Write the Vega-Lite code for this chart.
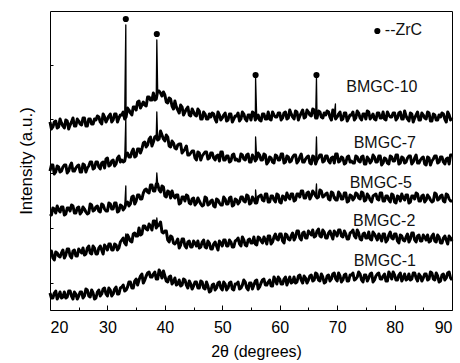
{
  "$schema": "https://vega.github.io/schema/vega-lite/v6.json",
  "autosize": "none",
  "width": 402,
  "height": 299,
  "padding": {"left": 50, "top": 11, "right": 8, "bottom": 53},
  "background": "white",
  "config": {
    "view": {"stroke": "black", "strokeWidth": 1},
    "font": "Liberation Sans",
    "axis": {"grid": false, "domainColor": "black", "tickColor": "black", "labelColor": "black", "titleColor": "black", "labelFont": "Liberation Sans", "titleFont": "Liberation Sans", "titleFontWeight": "normal"}
  },
  "datasets": {
    "xrd": [
      {"t":20,"a":188,"b":139,"c":96,"d":59,"e":17},
      {"t":20.25,"a":181,"b":145,"c":95,"d":59,"e":12},
      {"t":20.5,"a":183,"b":145,"c":102,"d":52,"e":12},
      {"t":20.75,"a":188,"b":136,"c":101,"d":50,"e":17},
      {"t":21,"a":189,"b":138,"c":97,"d":58,"e":19},
      {"t":21.25,"a":182,"b":144,"c":104,"d":57,"e":11},
      {"t":21.5,"a":183,"b":143,"c":100,"d":54,"e":14},
      {"t":21.75,"a":191,"b":138,"c":98,"d":53,"e":18},
      {"t":22,"a":187,"b":139,"c":103,"d":57,"e":12},
      {"t":22.25,"a":184,"b":143,"c":103,"d":60,"e":13},
      {"t":22.5,"a":182,"b":145,"c":95,"d":52,"e":18},
      {"t":22.75,"a":190,"b":145,"c":96,"d":55,"e":12},
      {"t":23,"a":189,"b":137,"c":102,"d":61,"e":13},
      {"t":23.25,"a":181,"b":139,"c":102,"d":61,"e":19},
      {"t":23.5,"a":185,"b":144,"c":99,"d":54,"e":19},
      {"t":23.75,"a":188,"b":147,"c":105,"d":52,"e":14},
      {"t":24,"a":192,"b":139,"c":104,"d":59,"e":11},
      {"t":24.25,"a":184,"b":139,"c":97,"d":60,"e":18},
      {"t":24.5,"a":184,"b":142,"c":97,"d":54,"e":16},
      {"t":24.75,"a":191,"b":144,"c":102,"d":54,"e":11},
      {"t":25,"a":189,"b":145,"c":103,"d":61,"e":14},
      {"t":25.25,"a":186,"b":138,"c":96,"d":59,"e":18},
      {"t":25.5,"a":185,"b":138,"c":98,"d":57,"e":18},
      {"t":25.75,"a":192,"b":146,"c":103,"d":62,"e":12},
      {"t":26,"a":192,"b":145,"c":101,"d":55,"e":14},
      {"t":26.25,"a":184,"b":138,"c":98,"d":56,"e":21},
      {"t":26.5,"a":184,"b":142,"c":96,"d":62,"e":20},
      {"t":26.75,"a":191,"b":144,"c":97,"d":64,"e":14},
      {"t":27,"a":191,"b":148,"c":106,"d":57,"e":13},
      {"t":27.25,"a":186,"b":148,"c":105,"d":56,"e":20},
      {"t":27.5,"a":186,"b":141,"c":99,"d":64,"e":17},
      {"t":27.75,"a":191,"b":142,"c":100,"d":62,"e":11},
      {"t":28,"a":190,"b":148,"c":103,"d":56,"e":12},
      {"t":28.25,"a":194,"b":148,"c":104,"d":56,"e":18},
      {"t":28.5,"a":193,"b":143,"c":99,"d":62,"e":20},
      {"t":28.75,"a":188,"b":141,"c":98,"d":64,"e":14},
      {"t":29,"a":186,"b":147,"c":106,"d":60,"e":16},
      {"t":29.25,"a":196,"b":148,"c":105,"d":56,"e":21},
      {"t":29.5,"a":193,"b":142,"c":101,"d":65,"e":22},
      {"t":29.75,"a":188,"b":151,"c":99,"d":63,"e":16},
      {"t":30,"a":191,"b":152,"c":99,"d":60,"e":14},
      {"t":30.25,"a":194,"b":144,"c":107,"d":66,"e":22},
      {"t":30.5,"a":196,"b":145,"c":106,"d":66,"e":20},
      {"t":30.75,"a":188,"b":149,"c":101,"d":60,"e":14},
      {"t":31,"a":190,"b":150,"c":101,"d":60,"e":16},
      {"t":31.25,"a":196,"b":144,"c":107,"d":66,"e":21},
      {"t":31.5,"a":196,"b":146,"c":107,"d":65,"e":23},
      {"t":31.75,"a":188,"b":152,"c":98,"d":60,"e":16},
      {"t":32,"a":192,"b":154,"c":99,"d":62,"e":16},
      {"t":32.25,"a":195,"b":148,"c":105,"d":68,"e":22},
      {"t":32.5,"a":195,"b":150,"c":104,"d":70,"e":23},
      {"t":32.75,"a":198,"b":148,"c":100,"d":72,"e":25},
      {"t":33,"a":191,"b":149,"c":102,"d":67,"e":19},
      {"t":33.2,"a":285,"b":192,"c":124,"d":76,"e":21},
      {"t":33.25,"a":193,"b":156,"c":107,"d":65,"e":20},
      {"t":33.5,"a":202,"b":157,"c":108,"d":75,"e":23},
      {"t":33.75,"a":200,"b":153,"c":104,"d":72,"e":28},
      {"t":34,"a":197,"b":153,"c":106,"d":69,"e":28},
      {"t":34.25,"a":195,"b":158,"c":113,"d":68,"e":22},
      {"t":34.5,"a":203,"b":161,"c":114,"d":76,"e":22},
      {"t":34.75,"a":203,"b":153,"c":106,"d":77,"e":29},
      {"t":35,"a":200,"b":154,"c":109,"d":74,"e":31},
      {"t":35.25,"a":208,"b":161,"c":115,"d":74,"e":25},
      {"t":35.5,"a":209,"b":161,"c":115,"d":82,"e":30},
      {"t":35.75,"a":202,"b":157,"c":111,"d":75,"e":34},
      {"t":36,"a":205,"b":161,"c":111,"d":76,"e":36},
      {"t":36.25,"a":208,"b":167,"c":117,"d":84,"e":27},
      {"t":36.5,"a":205,"b":168,"c":120,"d":84,"e":30},
      {"t":36.75,"a":204,"b":163,"c":121,"d":81,"e":34},
      {"t":37,"a":213,"b":165,"c":118,"d":80,"e":37},
      {"t":37.25,"a":213,"b":171,"c":117,"d":86,"e":38},
      {"t":37.5,"a":210,"b":173,"c":125,"d":84,"e":33},
      {"t":37.75,"a":210,"b":164,"c":125,"d":80,"e":33},
      {"t":38,"a":217,"b":168,"c":119,"d":89,"e":36},
      {"t":38.25,"a":210,"b":173,"c":119,"d":89,"e":38},
      {"t":38.5,"a":211,"b":174,"c":126,"d":82,"e":31},
      {"t":38.6,"a":270,"b":198,"c":137,"d":92,"e":35},
      {"t":38.75,"a":219,"b":170,"c":126,"d":84,"e":31},
      {"t":39,"a":219,"b":171,"c":120,"d":85,"e":40},
      {"t":39.25,"a":217,"b":179,"c":118,"d":88,"e":37},
      {"t":39.5,"a":214,"b":175,"c":124,"d":78,"e":32},
      {"t":39.75,"a":218,"b":171,"c":123,"d":77,"e":39},
      {"t":40,"a":215,"b":169,"c":114,"d":79,"e":34},
      {"t":40.25,"a":208,"b":175,"c":113,"d":79,"e":29},
      {"t":40.5,"a":207,"b":173,"c":119,"d":70,"e":28},
      {"t":40.75,"a":212,"b":164,"c":118,"d":68,"e":33},
      {"t":41,"a":211,"b":163,"c":112,"d":74,"e":34},
      {"t":41.25,"a":204,"b":169,"c":119,"d":73,"e":26},
      {"t":41.5,"a":201,"b":167,"c":114,"d":67,"e":28},
      {"t":41.75,"a":209,"b":162,"c":112,"d":66,"e":32},
      {"t":42,"a":203,"b":161,"c":115,"d":68,"e":25},
      {"t":42.25,"a":200,"b":165,"c":115,"d":71,"e":26},
      {"t":42.5,"a":197,"b":166,"c":106,"d":62,"e":30},
      {"t":42.75,"a":205,"b":166,"c":107,"d":65,"e":24},
      {"t":43,"a":203,"b":157,"c":113,"d":71,"e":25},
      {"t":43.25,"a":195,"b":159,"c":113,"d":71,"e":31},
      {"t":43.5,"a":198,"b":161,"c":109,"d":64,"e":30},
      {"t":43.75,"a":201,"b":164,"c":115,"d":62,"e":25},
      {"t":44,"a":203,"b":155,"c":114,"d":68,"e":22},
      {"t":44.25,"a":195,"b":155,"c":107,"d":69,"e":29},
      {"t":44.5,"a":194,"b":157,"c":106,"d":63,"e":26},
      {"t":44.75,"a":201,"b":159,"c":111,"d":63,"e":21},
      {"t":45,"a":198,"b":159,"c":112,"d":69,"e":24},
      {"t":45.25,"a":195,"b":152,"c":105,"d":67,"e":28},
      {"t":45.5,"a":194,"b":150,"c":107,"d":64,"e":28},
      {"t":45.75,"a":201,"b":158,"c":112,"d":69,"e":22},
      {"t":46,"a":199,"b":157,"c":109,"d":62,"e":22},
      {"t":46.25,"a":191,"b":150,"c":106,"d":63,"e":29},
      {"t":46.5,"a":191,"b":154,"c":104,"d":68,"e":28},
      {"t":46.75,"a":198,"b":156,"c":105,"d":70,"e":22},
      {"t":47,"a":196,"b":158,"c":113,"d":63,"e":21},
      {"t":47.25,"a":191,"b":158,"c":112,"d":62,"e":28},
      {"t":47.5,"a":191,"b":151,"c":105,"d":69,"e":24},
      {"t":47.75,"a":196,"b":152,"c":106,"d":67,"e":18},
      {"t":48,"a":193,"b":157,"c":109,"d":61,"e":19},
      {"t":48.25,"a":197,"b":157,"c":110,"d":61,"e":25},
      {"t":48.5,"a":196,"b":152,"c":104,"d":66,"e":26},
      {"t":48.75,"a":191,"b":150,"c":103,"d":68,"e":20},
      {"t":49,"a":188,"b":154,"c":111,"d":64,"e":22},
      {"t":49.25,"a":198,"b":155,"c":110,"d":60,"e":27},
      {"t":49.5,"a":195,"b":149,"c":107,"d":69,"e":28},
      {"t":49.75,"a":190,"b":158,"c":105,"d":67,"e":22},
      {"t":50,"a":192,"b":158,"c":105,"d":64,"e":20},
      {"t":50.25,"a":195,"b":150,"c":113,"d":70,"e":28},
      {"t":50.5,"a":197,"b":150,"c":111,"d":70,"e":26},
      {"t":50.75,"a":189,"b":154,"c":106,"d":64,"e":20},
      {"t":51,"a":190,"b":154,"c":106,"d":64,"e":22},
      {"t":51.25,"a":196,"b":148,"c":112,"d":70,"e":27},
      {"t":51.5,"a":196,"b":149,"c":113,"d":68,"e":28},
      {"t":51.75,"a":188,"b":155,"c":104,"d":63,"e":21},
      {"t":52,"a":191,"b":156,"c":105,"d":63,"e":20},
      {"t":52.25,"a":194,"b":150,"c":111,"d":69,"e":26},
      {"t":52.5,"a":194,"b":151,"c":110,"d":70,"e":26},
      {"t":52.75,"a":197,"b":149,"c":106,"d":72,"e":28},
      {"t":53,"a":189,"b":149,"c":108,"d":66,"e":21},
      {"t":53.25,"a":191,"b":156,"c":113,"d":64,"e":22},
      {"t":53.5,"a":198,"b":155,"c":113,"d":73,"e":25},
      {"t":53.75,"a":196,"b":151,"c":109,"d":70,"e":30},
      {"t":54,"a":191,"b":150,"c":108,"d":65,"e":28},
      {"t":54.25,"a":189,"b":155,"c":115,"d":64,"e":22},
      {"t":54.5,"a":195,"b":156,"c":114,"d":70,"e":20},
      {"t":54.75,"a":195,"b":148,"c":106,"d":71,"e":27},
      {"t":55,"a":190,"b":148,"c":107,"d":67,"e":27},
      {"t":55.25,"a":198,"b":155,"c":113,"d":67,"e":21},
      {"t":55.5,"a":197,"b":153,"c":111,"d":73,"e":25},
      {"t":55.75,"a":190,"b":149,"c":107,"d":66,"e":29},
      {"t":55.8,"a":232,"b":173,"c":120,"d":69,"e":26},
      {"t":56,"a":192,"b":151,"c":107,"d":65,"e":30},
      {"t":56.25,"a":195,"b":157,"c":113,"d":73,"e":21},
      {"t":56.5,"a":190,"b":155,"c":114,"d":72,"e":23},
      {"t":56.75,"a":189,"b":150,"c":115,"d":69,"e":27},
      {"t":57,"a":196,"b":150,"c":110,"d":67,"e":30},
      {"t":57.25,"a":196,"b":156,"c":109,"d":73,"e":31},
      {"t":57.5,"a":191,"b":155,"c":116,"d":70,"e":25},
      {"t":57.75,"a":191,"b":146,"c":116,"d":66,"e":25},
      {"t":58,"a":198,"b":148,"c":108,"d":74,"e":28},
      {"t":58.25,"a":191,"b":153,"c":108,"d":74,"e":30},
      {"t":58.5,"a":190,"b":152,"c":114,"d":66,"e":24},
      {"t":58.75,"a":198,"b":148,"c":114,"d":68,"e":24},
      {"t":59,"a":195,"b":147,"c":110,"d":73,"e":33},
      {"t":59.25,"a":193,"b":155,"c":108,"d":76,"e":30},
      {"t":59.5,"a":193,"b":154,"c":116,"d":71,"e":26},
      {"t":59.75,"a":197,"b":150,"c":115,"d":70,"e":33},
      {"t":60,"a":197,"b":150,"c":108,"d":76,"e":31},
      {"t":60.25,"a":190,"b":156,"c":107,"d":76,"e":26},
      {"t":60.5,"a":192,"b":156,"c":114,"d":69,"e":26},
      {"t":60.75,"a":197,"b":147,"c":113,"d":67,"e":31},
      {"t":61,"a":198,"b":148,"c":110,"d":76,"e":33},
      {"t":61.25,"a":191,"b":154,"c":117,"d":75,"e":25},
      {"t":61.5,"a":192,"b":153,"c":113,"d":71,"e":29},
      {"t":61.75,"a":200,"b":148,"c":111,"d":70,"e":33},
      {"t":62,"a":196,"b":149,"c":116,"d":74,"e":27},
      {"t":62.25,"a":193,"b":153,"c":116,"d":77,"e":28},
      {"t":62.5,"a":191,"b":155,"c":109,"d":70,"e":33},
      {"t":62.75,"a":199,"b":155,"c":110,"d":73,"e":27},
      {"t":63,"a":198,"b":147,"c":116,"d":79,"e":28},
      {"t":63.25,"a":190,"b":149,"c":116,"d":79,"e":34},
      {"t":63.5,"a":194,"b":153,"c":113,"d":72,"e":35},
      {"t":63.75,"a":197,"b":156,"c":119,"d":70,"e":30},
      {"t":64,"a":200,"b":148,"c":119,"d":77,"e":27},
      {"t":64.25,"a":192,"b":148,"c":112,"d":78,"e":34},
      {"t":64.5,"a":193,"b":151,"c":112,"d":72,"e":32},
      {"t":64.75,"a":200,"b":153,"c":117,"d":72,"e":27},
      {"t":65,"a":198,"b":154,"c":118,"d":79,"e":30},
      {"t":65.25,"a":195,"b":147,"c":111,"d":77,"e":34},
      {"t":65.5,"a":194,"b":146,"c":114,"d":75,"e":35},
      {"t":65.75,"a":201,"b":154,"c":119,"d":80,"e":29},
      {"t":66,"a":200,"b":153,"c":117,"d":73,"e":30},
      {"t":66.25,"a":192,"b":146,"c":114,"d":74,"e":37},
      {"t":66.4,"a":232,"b":173,"c":126,"d":76,"e":32},
      {"t":66.5,"a":192,"b":150,"c":112,"d":79,"e":36},
      {"t":66.75,"a":199,"b":152,"c":113,"d":81,"e":30},
      {"t":67,"a":198,"b":155,"c":120,"d":74,"e":29},
      {"t":67.25,"a":193,"b":155,"c":119,"d":73,"e":36},
      {"t":67.5,"a":192,"b":148,"c":113,"d":80,"e":33},
      {"t":67.75,"a":197,"b":149,"c":114,"d":78,"e":27},
      {"t":68,"a":195,"b":154,"c":116,"d":72,"e":28},
      {"t":68.25,"a":199,"b":154,"c":117,"d":72,"e":34},
      {"t":68.5,"a":198,"b":149,"c":111,"d":77,"e":35},
      {"t":68.75,"a":193,"b":147,"c":110,"d":79,"e":29},
      {"t":69,"a":190,"b":152,"c":118,"d":75,"e":31},
      {"t":69.25,"a":200,"b":153,"c":117,"d":71,"e":36},
      {"t":69.5,"a":196,"b":147,"c":112,"d":79,"e":37},
      {"t":69.7,"a":206,"b":151,"c":113,"d":76,"e":32},
      {"t":69.75,"a":191,"b":156,"c":110,"d":77,"e":31},
      {"t":70,"a":193,"b":156,"c":110,"d":74,"e":29},
      {"t":70.25,"a":196,"b":148,"c":118,"d":80,"e":37},
      {"t":70.5,"a":198,"b":149,"c":116,"d":80,"e":34},
      {"t":70.75,"a":190,"b":153,"c":111,"d":74,"e":28},
      {"t":71,"a":191,"b":152,"c":111,"d":73,"e":30},
      {"t":71.25,"a":197,"b":146,"c":117,"d":79,"e":35},
      {"t":71.5,"a":197,"b":147,"c":117,"d":76,"e":36},
      {"t":71.75,"a":189,"b":153,"c":108,"d":71,"e":29},
      {"t":72,"a":192,"b":154,"c":109,"d":71,"e":29},
      {"t":72.25,"a":195,"b":148,"c":115,"d":77,"e":35},
      {"t":72.5,"a":195,"b":149,"c":114,"d":78,"e":35},
      {"t":72.75,"a":198,"b":147,"c":110,"d":80,"e":37},
      {"t":73,"a":190,"b":147,"c":112,"d":74,"e":30},
      {"t":73.25,"a":192,"b":154,"c":117,"d":72,"e":31},
      {"t":73.5,"a":199,"b":153,"c":116,"d":80,"e":33},
      {"t":73.75,"a":197,"b":149,"c":112,"d":77,"e":38},
      {"t":74,"a":192,"b":148,"c":111,"d":71,"e":36},
      {"t":74.25,"a":190,"b":153,"c":118,"d":70,"e":30},
      {"t":74.5,"a":196,"b":154,"c":117,"d":76,"e":28},
      {"t":74.75,"a":196,"b":146,"c":109,"d":77,"e":35},
      {"t":75,"a":191,"b":146,"c":110,"d":72,"e":35},
      {"t":75.25,"a":199,"b":153,"c":116,"d":72,"e":29},
      {"t":75.5,"a":198,"b":151,"c":114,"d":78,"e":32},
      {"t":75.75,"a":191,"b":147,"c":110,"d":71,"e":36},
      {"t":76,"a":193,"b":149,"c":108,"d":70,"e":37},
      {"t":76.25,"a":196,"b":155,"c":114,"d":78,"e":28},
      {"t":76.5,"a":191,"b":153,"c":115,"d":76,"e":30},
      {"t":76.75,"a":190,"b":148,"c":116,"d":73,"e":34},
      {"t":77,"a":197,"b":148,"c":111,"d":70,"e":36},
      {"t":77.25,"a":197,"b":154,"c":110,"d":76,"e":37},
      {"t":77.5,"a":192,"b":154,"c":117,"d":73,"e":31},
      {"t":77.75,"a":192,"b":145,"c":117,"d":69,"e":31},
      {"t":78,"a":198,"b":147,"c":109,"d":76,"e":34},
      {"t":78.25,"a":191,"b":152,"c":109,"d":76,"e":36},
      {"t":78.5,"a":190,"b":151,"c":114,"d":68,"e":29},
      {"t":78.75,"a":198,"b":147,"c":114,"d":70,"e":29},
      {"t":79,"a":195,"b":146,"c":110,"d":75,"e":38},
      {"t":79.25,"a":193,"b":154,"c":108,"d":78,"e":35},
      {"t":79.5,"a":193,"b":153,"c":116,"d":72,"e":31},
      {"t":79.75,"a":197,"b":149,"c":115,"d":71,"e":38},
      {"t":80,"a":197,"b":149,"c":108,"d":76,"e":35},
      {"t":80.25,"a":190,"b":155,"c":107,"d":76,"e":30},
      {"t":80.5,"a":192,"b":155,"c":114,"d":69,"e":30},
      {"t":80.75,"a":197,"b":146,"c":113,"d":67,"e":35},
      {"t":81,"a":198,"b":147,"c":109,"d":75,"e":37},
      {"t":81.25,"a":191,"b":153,"c":116,"d":74,"e":29},
      {"t":81.5,"a":191,"b":152,"c":112,"d":70,"e":32},
      {"t":81.75,"a":199,"b":147,"c":110,"d":69,"e":36},
      {"t":82,"a":194,"b":148,"c":115,"d":73,"e":30},
      {"t":82.25,"a":191,"b":152,"c":115,"d":76,"e":31},
      {"t":82.5,"a":189,"b":154,"c":107,"d":68,"e":36},
      {"t":82.75,"a":197,"b":154,"c":108,"d":71,"e":30},
      {"t":83,"a":196,"b":146,"c":114,"d":77,"e":31},
      {"t":83.25,"a":188,"b":148,"c":114,"d":77,"e":37},
      {"t":83.5,"a":192,"b":152,"c":111,"d":70,"e":37},
      {"t":83.75,"a":195,"b":155,"c":117,"d":68,"e":32},
      {"t":84,"a":198,"b":147,"c":116,"d":74,"e":29},
      {"t":84.25,"a":190,"b":147,"c":109,"d":75,"e":36},
      {"t":84.5,"a":190,"b":150,"c":109,"d":69,"e":34},
      {"t":84.75,"a":197,"b":152,"c":114,"d":69,"e":29},
      {"t":85,"a":195,"b":153,"c":115,"d":75,"e":32},
      {"t":85.25,"a":192,"b":146,"c":108,"d":73,"e":36},
      {"t":85.5,"a":191,"b":145,"c":110,"d":70,"e":36},
      {"t":85.75,"a":198,"b":153,"c":115,"d":75,"e":30},
      {"t":86,"a":197,"b":152,"c":113,"d":68,"e":31},
      {"t":86.25,"a":189,"b":145,"c":110,"d":69,"e":38},
      {"t":86.5,"a":189,"b":149,"c":108,"d":74,"e":37},
      {"t":86.75,"a":196,"b":151,"c":109,"d":76,"e":31},
      {"t":87,"a":195,"b":154,"c":117,"d":69,"e":30},
      {"t":87.25,"a":190,"b":154,"c":116,"d":68,"e":37},
      {"t":87.5,"a":190,"b":147,"c":110,"d":75,"e":34},
      {"t":87.75,"a":195,"b":148,"c":111,"d":73,"e":28},
      {"t":88,"a":193,"b":153,"c":114,"d":67,"e":29},
      {"t":88.25,"a":197,"b":153,"c":115,"d":67,"e":35},
      {"t":88.5,"a":196,"b":148,"c":109,"d":72,"e":36},
      {"t":88.75,"a":191,"b":146,"c":108,"d":74,"e":30},
      {"t":89,"a":188,"b":151,"c":116,"d":70,"e":32},
      {"t":89.25,"a":198,"b":152,"c":115,"d":66,"e":37},
      {"t":89.5,"a":195,"b":146,"c":111,"d":74,"e":38},
      {"t":89.75,"a":190,"b":155,"c":109,"d":72,"e":32},
      {"t":90,"a":192,"b":155,"c":109,"d":69,"e":30}
    ],
    "labels": [
      {"label":"BMGC-10","t":77.8,"v":223},
      {"label":"BMGC-7","t":78.3,"v":167},
      {"label":"BMGC-5","t":77.6,"v":127},
      {"label":"BMGC-2","t":78.2,"v":89},
      {"label":"BMGC-1","t":78.3,"v":49}
    ],
    "dots": [
      {"t":33.2,"v":291},
      {"t":38.6,"v":276},
      {"t":55.8,"v":235},
      {"t":66.4,"v":235},
      {"t":77.0,"v":279}
    ],
    "legend": [
      {"label":"--ZrC","t":78.3,"v":280}
    ]
  },
  "layer": [
    {
      "data": {"name": "xrd"},
      "transform": [
        {"filter": {"not": {"field": "t", "oneOf": [33.2, 38.6, 55.8, 66.4, 69.7]}}},
        {"fold": ["a","b","c","d","e"], "as": ["s","v"]}
      ],
      "mark": {"type": "line", "color": "black", "strokeWidth": 3, "strokeJoin": "round", "interpolate": "linear"},
      "encoding": {
        "x": {"field": "t", "type": "quantitative",
              "scale": {"domain": [20, 90], "nice": false, "zero": false},
              "axis": {"orient": "bottom", "values": [20,30,40,50,60,70,80,90], "tickSize": -5, "labelPadding": 14, "labelFontSize": 16, "title": "2θ (degrees)", "titleFontSize": 16, "titlePadding": 8, "titleX": 206, "domain": false}},
        "y": {"field": "v", "type": "quantitative",
              "scale": {"domain": [0, 299], "nice": false, "zero": false},
              "axis": {"values": [27,54,82,109,137,164,191,218,245,272], "tickSize": -3, "labels": false, "domain": false, "title": "Intensity (a.u.)", "titleFontSize": 17, "titlePadding": 14}},
        "detail": {"field": "s", "type": "nominal"}
      }
    },
    {
      "data": {"name": "xrd"},
      "transform": [{"fold": ["a","b","c","d","e"], "as": ["s","v"]}],
      "mark": {"type": "line", "color": "black", "strokeWidth": 1.3, "strokeJoin": "round", "interpolate": "linear"},
      "encoding": {
        "x": {"field": "t", "type": "quantitative", "axis": null},
        "y": {"field": "v", "type": "quantitative"},
        "detail": {"field": "s", "type": "nominal"}
      }
    },
    {
      "data": {"name": "dots"},
      "mark": {"type": "point", "filled": true, "color": "black", "opacity": 1, "size": 38},
      "encoding": {
        "x": {"field": "t", "type": "quantitative",
              "axis": {"orient": "bottom", "values": [25,35,45,55,65,75,85], "tickSize": -3, "labels": false, "domain": false, "title": null}},
        "y": {"field": "v", "type": "quantitative"}
      }
    },
    {
      "data": {"name": "labels"},
      "mark": {"type": "text", "fontSize": 16, "align": "center", "baseline": "middle", "color": "#111"},
      "encoding": {
        "x": {"field": "t", "type": "quantitative", "axis": null},
        "y": {"field": "v", "type": "quantitative"},
        "text": {"field": "label"}
      }
    },
    {
      "data": {"name": "legend"},
      "mark": {"type": "text", "fontSize": 16, "align": "left", "baseline": "middle", "color": "#111"},
      "encoding": {
        "x": {"field": "t", "type": "quantitative", "axis": null},
        "y": {"field": "v", "type": "quantitative"},
        "text": {"field": "label"}
      }
    }
  ],
  "resolve": {"axis": {"x": "independent"}}
}
